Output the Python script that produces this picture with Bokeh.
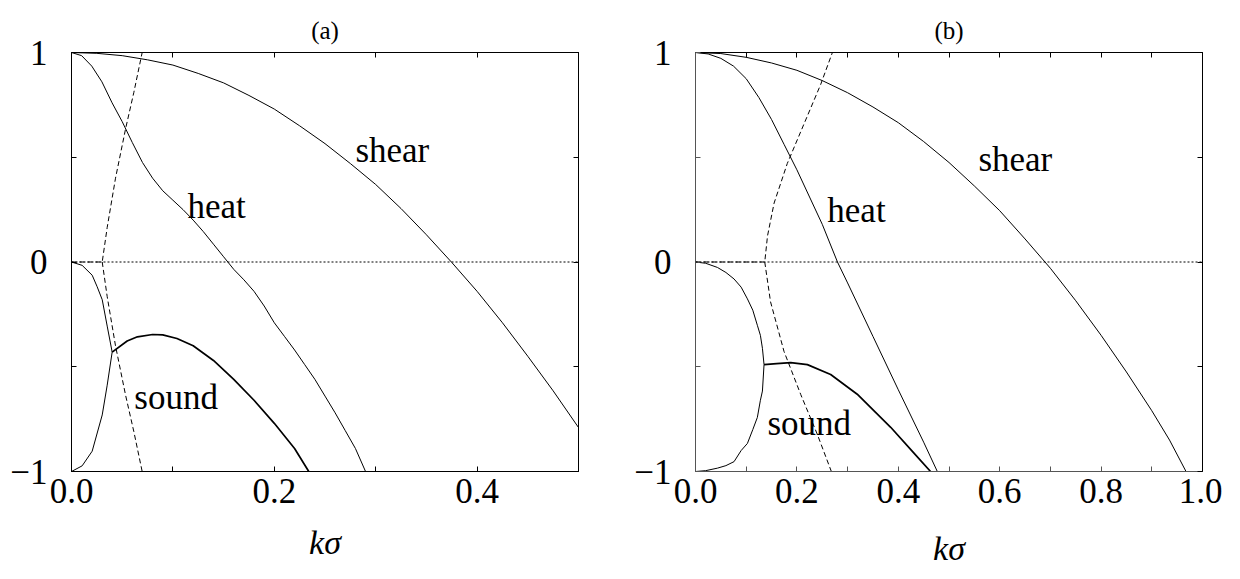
from bokeh.plotting import figure
from bokeh.layouts import row
from bokeh.models import FixedTicker, LinearAxis, Span, Label, PrintfTickFormatter, Range1d
from bokeh.embed import file_html
from bokeh.resources import INLINE

FONT = "Liberation Serif"

# ---------------- panel (a) data ----------------
shear_a_k = [0.0, 0.025, 0.05, 0.075, 0.1, 0.125, 0.15, 0.175, 0.2, 0.225, 0.25, 0.275,
             0.3, 0.325, 0.35, 0.375, 0.4, 0.425, 0.45, 0.475, 0.5]
shear_a_y = [1.0, 0.996, 0.985, 0.965, 0.94, 0.90, 0.855, 0.795, 0.73, 0.65, 0.565, 0.47,
             0.37, 0.255, 0.13, -0.002, -0.14, -0.29, -0.45, -0.615, -0.79]

heat_a_k = [0.0, 0.01, 0.02, 0.03, 0.04, 0.05, 0.06, 0.07, 0.08, 0.09, 0.10, 0.11,
            0.12, 0.13, 0.14, 0.15, 0.16, 0.17, 0.18, 0.19, 0.20, 0.21, 0.22, 0.23,
            0.24, 0.25, 0.26, 0.27, 0.28, 0.29]
heat_a_y = [1.0, 0.985, 0.935, 0.86, 0.76, 0.67, 0.57, 0.475, 0.40, 0.34, 0.295, 0.25,
            0.20, 0.145, 0.085, 0.025, -0.035, -0.085, -0.14, -0.21, -0.29, -0.355, -0.42, -0.49,
            -0.56, -0.64, -0.72, -0.805, -0.89, -1.0]

sound_a_up_k = [0.0, 0.0105, 0.0204, 0.0253, 0.0303, 0.0352, 0.0401]
sound_a_up_y = [0.0, -0.016, -0.063, -0.118, -0.18, -0.306, -0.43]
sound_a_lo_k = [0.0, 0.0105, 0.0204, 0.0303, 0.0352, 0.0401]
sound_a_lo_y = [-1.0, -0.973, -0.903, -0.73, -0.588, -0.43]
sound_a_k = [0.0401, 0.0549, 0.065, 0.08, 0.09, 0.104, 0.12, 0.14, 0.16, 0.18, 0.2, 0.22, 0.234]
sound_a_y = [-0.43, -0.377, -0.357, -0.346, -0.348, -0.365, -0.40, -0.47, -0.56, -0.66, -0.77, -0.89, -1.0]

dash_a_up_k = [0.0, 0.0303, 0.0352, 0.0434, 0.0533, 0.0615, 0.0697]
dash_a_up_y = [0.0, 0.0, 0.165, 0.40, 0.635, 0.81, 1.0]
dash_a_lo_k = [0.0303, 0.0352, 0.0434, 0.0533, 0.0615, 0.0697]
dash_a_lo_y = [0.0, -0.165, -0.40, -0.635, -0.81, -1.0]

# ---------------- panel (b) data ----------------
shear_b_k = [0.0, 0.05, 0.1, 0.15, 0.2, 0.25, 0.3, 0.35, 0.4, 0.45, 0.5, 0.55, 0.6,
             0.65, 0.7, 0.75, 0.8, 0.85, 0.9, 0.935, 0.9675]
shear_b_y = [1.0, 0.995, 0.977, 0.95, 0.915, 0.866, 0.808, 0.74, 0.665, 0.575, 0.475, 0.363, 0.245,
             0.11, -0.03, -0.185, -0.35, -0.525, -0.71, -0.85, -1.0]

heat_b_k = [0.0, 0.025, 0.05, 0.075, 0.1, 0.125, 0.15, 0.175, 0.2, 0.25, 0.28,
            0.3, 0.35, 0.4, 0.45, 0.477]
heat_b_y = [1.0, 0.993, 0.972, 0.935, 0.875, 0.785, 0.68, 0.56, 0.44, 0.18, 0.0,
            -0.1, -0.355, -0.61, -0.86, -1.0]

sound_b_loop_k = [0.0, 0.02, 0.0433, 0.06, 0.076, 0.09, 0.1024, 0.113, 0.122, 0.128, 0.132, 0.1352,
                  0.132, 0.128, 0.122, 0.113, 0.1024, 0.09, 0.076, 0.06, 0.0433, 0.02, 0.0]
sound_b_loop_y = [0.0, -0.006, -0.026, -0.05, -0.081, -0.12, -0.176, -0.23, -0.302, -0.35, -0.412, -0.49,
                  -0.616, -0.66, -0.742, -0.80, -0.866, -0.90, -0.953, -0.972, -0.984, -0.996, -1.0]
sound_b_k = [0.1352, 0.16, 0.1878, 0.2207, 0.2666, 0.319, 0.385, 0.43, 0.4636]
sound_b_y = [-0.49, -0.485, -0.48, -0.49, -0.537, -0.631, -0.789, -0.91, -1.0]

dash_b_up_k = [0.0, 0.1366, 0.142, 0.155, 0.181, 0.214, 0.247, 0.27]
dash_b_up_y = [0.0, 0.0, 0.124, 0.281, 0.47, 0.659, 0.848, 1.0]
dash_b_lo_k = [0.1366, 0.148, 0.1746, 0.2075, 0.24, 0.268]
dash_b_lo_y = [0.0, -0.19, -0.427, -0.632, -0.821, -1.0]

# tick definitions
xa_major = [0.0, 0.2, 0.4]
xa_minor = [0.1, 0.3, 0.5]
xb_major = [0.0, 0.2, 0.4, 0.6, 0.8, 1.0]
xb_minor = [0.1, 0.3, 0.5, 0.7, 0.9]
y_major = [-1.0, 0.0, 1.0]
y_minor = [-0.5, 0.5]
y_labels = {-1.0: "\u22121", 0.0: "0", 1.0: "1"}
x_title = "k\u03c3"


def make_panel(title, xmax, xmaj, xmin, width, height, bl, br, bt, bb, axis_color, xlab_standoff):
    p = figure(width=width, height=height, x_range=Range1d(0, xmax), y_range=Range1d(-1, 1),
               output_backend="svg", toolbar_location=None, x_axis_type=None, y_axis_type=None,
               min_border_left=bl, min_border_right=br, min_border_top=bt, min_border_bottom=bb,
               background_fill_color="white", border_fill_color="white")
    p.outline_line_color = "black"
    p.outline_line_width = 1
    p.title.text = title
    p.title.align = "center"
    p.title.text_font = FONT
    p.title.text_font_size = "25px"
    p.title.text_font_style = "normal"
    p.title.text_color = "black"
    p.title.standoff = 18

    def style(ax, color):
        ax.axis_line_color = color
        ax.major_tick_line_color = color
        ax.minor_tick_line_color = color
        ax.major_tick_in = 5
        ax.major_tick_out = 0
        ax.minor_tick_in = 5
        ax.minor_tick_out = 0
        ax.major_label_text_font = FONT
        ax.major_label_text_font_size = "35px"
        ax.major_label_text_color = "black"

    xb = LinearAxis(ticker=FixedTicker(ticks=xmaj, minor_ticks=xmin),
                    formatter=PrintfTickFormatter(format="%.1f"))
    style(xb, axis_color)
    xb.major_label_standoff = 7
    xb.axis_label = x_title
    xb.axis_label_text_font = FONT
    xb.axis_label_text_font_size = "34px"
    xb.axis_label_text_font_style = "italic"
    xb.axis_label_text_color = "black"
    xb.axis_label_standoff = xlab_standoff
    p.add_layout(xb, "below")

    yl = LinearAxis(ticker=FixedTicker(ticks=y_major, minor_ticks=y_minor),
                    major_label_overrides=y_labels)
    style(yl, axis_color)
    yl.major_label_standoff = 24
    yl.major_label_orientation = "horizontal"
    p.add_layout(yl, "left")

    xt = LinearAxis(ticker=FixedTicker(ticks=[], minor_ticks=sorted(xmaj + xmin)))
    style(xt, "black")
    p.add_layout(xt, "above")

    yr = LinearAxis(ticker=FixedTicker(ticks=[], minor_ticks=sorted(y_major + y_minor)))
    style(yr, "black")
    p.add_layout(yr, "right")

    p.add_layout(Span(location=0, dimension="width", line_color="black",
                      line_width=1, line_dash="2 2"))
    return p


def add_text(p, x, y, txt, size="35px"):
    p.add_layout(Label(x=x, y=y, text=txt, text_font=FONT, text_font_size=size,
                       text_font_style="normal", text_align="left", text_baseline="alphabetic",
                       text_color="black"))


# ---------------- panel (a) ----------------
pa = make_panel("(a)", 0.5, xa_major, xa_minor, 620, 579, 71, 42, 52, 102, "black", 18)
pa.line(shear_a_k, shear_a_y, line_color="black", line_width=1)
pa.line(heat_a_k, heat_a_y, line_color="black", line_width=1)
pa.line(sound_a_up_k, sound_a_up_y, line_color="black", line_width=1)
pa.line(sound_a_lo_k, sound_a_lo_y, line_color="black", line_width=1)
pa.line(sound_a_k, sound_a_y, line_color="black", line_width=1.7)
pa.line(dash_a_up_k, dash_a_up_y, line_color="black", line_width=1, line_dash="5 3")
pa.line(dash_a_lo_k, dash_a_lo_y, line_color="black", line_width=1, line_dash="5 3")

add_text(pa, 0.28, 0.53, "shear")
add_text(pa, 0.1144, 0.267, "heat")
add_text(pa, 0.062, -0.645, "sound")

# ---------------- panel (b) ----------------
pb = make_panel("(b)", 1.0, xb_major, xb_minor, 602, 579, 75, 20, 48, 108, "#555555", 24)
pb.line(shear_b_k, shear_b_y, line_color="black", line_width=1)
pb.line(heat_b_k, heat_b_y, line_color="black", line_width=1)
pb.line(sound_b_loop_k, sound_b_loop_y, line_color="black", line_width=1)
pb.line(sound_b_k, sound_b_y, line_color="black", line_width=1.7)
pb.line(dash_b_up_k, dash_b_up_y, line_color="black", line_width=1, line_dash="5 3")
pb.line(dash_b_lo_k, dash_b_lo_y, line_color="black", line_width=1, line_dash="5 3")

add_text(pb, 0.558, 0.49, "shear")
add_text(pb, 0.26, 0.248, "heat")
add_text(pb, 0.142, -0.773, "sound")

layout = row(pa, pb)
open("out.html", "w").write(file_html(layout, INLINE))
